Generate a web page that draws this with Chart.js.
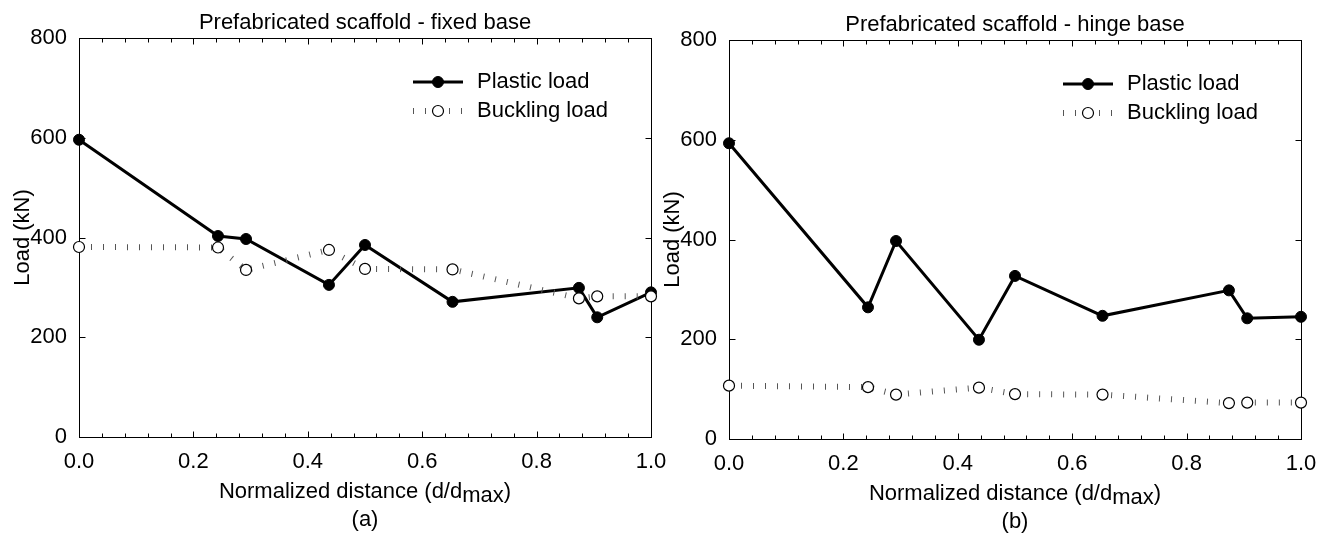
<!DOCTYPE html>
<html>
<head>
<meta charset="utf-8">
<script src="https://cdn.jsdelivr.net/npm/chart.js@4.4.1/dist/chart.umd.min.js"></script>
<style>
  html, body { margin: 0; padding: 0; background: #fff; overflow: hidden; }
  body { width: 1319px; height: 534px; position: relative; }
  canvas { position: absolute; }
  #chart-a { left: 0; top: 0; }
  #chart-b { left: 650px; top: 2px; }
</style>
</head>
<body>
<canvas id="chart-a" width="680" height="534"></canvas>
<canvas id="chart-b" width="680" height="534"></canvas>
<script>
// Normalized distance of each measured point (same for both panels)
const distances = [0, 0.243, 0.292, 0.437, 0.5, 0.653, 0.874, 0.906, 1.0];

// (a) fixed base
const plasticFixed = [596, 403, 397, 305, 385, 271, 299, 240, 290];
const bucklingFixed = [381, 380, 335, 375, 337, 336, 278, 282, 282];

// (b) hinge base
const plasticHinge = [593, 264, 397, 199, 327, 247, 298, 242, 245];
const bucklingHinge = [107, 104, 89, 103, 90, 89, 72, 73, 73];

const xTicks = [0, 0.2, 0.4, 0.6, 0.8, 1.0];
const xTickLabels = ['0.0', '0.2', '0.4', '0.6', '0.8', '1.0'];
const yTicks = [0, 200, 400, 600, 800];

const FONT_FAMILY = "'Liberation Sans', Arial, Helvetica, sans-serif";
const FONT_SIZE = 22;
Chart.defaults.font.family = FONT_FAMILY;
Chart.defaults.color = '#000';

// box around the plot area with inward ticks on all four sides
const framePlugin = {
    id: 'frame',
    beforeDatasetsDraw(chart) {
        const { ctx, chartArea: a, scales: { x, y } } = chart;
        const L = Math.round(a.left) + 0.5, R = Math.round(a.right) + 0.5;
        const T = Math.round(a.top) + 0.5, B = Math.round(a.bottom) + 0.5;
        ctx.save();
        ctx.strokeStyle = '#000';
        ctx.lineWidth = 1;
        ctx.strokeRect(L, T, R - L, B - T);
        ctx.beginPath();
        // minor ticks every 0.04, majors every 0.2
        for (let i = 0; i <= 25; i++) {
            const px = Math.round(x.getPixelForValue(i * 0.04)) + 0.5;
            const len = (i % 5 === 0) ? 6 : 4;
            ctx.moveTo(px, B); ctx.lineTo(px, B - len);
            ctx.moveTo(px, T); ctx.lineTo(px, T + len);
        }
        yTicks.forEach(v => {
            const py = Math.round(y.getPixelForValue(v)) + 0.5;
            ctx.moveTo(L, py); ctx.lineTo(L + 6, py);
            ctx.moveTo(R, py); ctx.lineTo(R - 6, py);
        });
        ctx.stroke();
        ctx.restore();
    }
};

// x axis title with subscript, panel caption and the legend inside the plot
const panelTextPlugin = {
    id: 'panelText',
    afterDraw(chart, args, opts) {
        const { ctx, chartArea: a } = chart;
        const cx = (a.left + a.right) / 2;
        ctx.save();
        ctx.fillStyle = '#000';
        ctx.font = `${FONT_SIZE}px ${FONT_FAMILY}`;

        // Normalized distance (d/d_max)
        const parts = ['Normalized distance (d/d', 'max', ')'];
        const widths = parts.map(p => ctx.measureText(p).width);
        let x0 = cx - (widths[0] + widths[1] + widths[2]) / 2;
        ctx.textAlign = 'left';
        ctx.textBaseline = 'alphabetic';
        ctx.fillText(parts[0], x0, a.bottom + 61);
        ctx.fillText(parts[1], x0 + widths[0], a.bottom + 65);
        ctx.fillText(parts[2], x0 + widths[0] + widths[1], a.bottom + 61);

        ctx.textAlign = 'center';
        ctx.textBaseline = 'middle';
        ctx.fillText(opts.caption, cx, a.bottom + 83);

        // legend
        chart.data.datasets.forEach((ds, i) => {
            const ly = a.top + 44 + i * 29;
            const lx0 = a.right - 238, lx1 = a.right - 188;
            ctx.save();
            ctx.strokeStyle = ds.borderColor;
            ctx.lineWidth = ds.borderWidth;
            ctx.setLineDash(ds.borderDash || []);
            ctx.beginPath();
            ctx.moveTo(lx0, ly); ctx.lineTo(lx1, ly);
            ctx.stroke();
            ctx.setLineDash([]);
            ctx.beginPath();
            ctx.arc((lx0 + lx1) / 2, ly, ds.pointRadius, 0, Math.PI * 2);
            ctx.fillStyle = ds.pointBackgroundColor;
            ctx.fill();
            ctx.lineWidth = ds.pointBorderWidth;
            ctx.strokeStyle = ds.pointBorderColor;
            ctx.stroke();
            ctx.restore();
            ctx.textAlign = 'left';
            ctx.textBaseline = 'middle';
            ctx.fillText(ds.label, a.right - 174, ly);
        });
        ctx.restore();
    }
};

function makePanel(canvasId, title, caption, plastic, buckling) {
    const ctx = document.getElementById(canvasId).getContext('2d');
    const font = { size: FONT_SIZE, family: FONT_FAMILY, weight: 'normal' };
    return new Chart(ctx, {
        type: 'line',
        data: {
            datasets: [
                {
                    label: 'Plastic load',
                    data: distances.map((d, i) => ({ x: d, y: plastic[i] })),
                    borderColor: '#000',
                    borderWidth: 3,
                    pointRadius: 5.5,
                    pointBackgroundColor: '#000',
                    pointBorderColor: '#000',
                    pointBorderWidth: 1,
                    tension: 0,
                    clip: false,
                    order: 2
                },
                {
                    label: 'Buckling load',
                    data: distances.map((d, i) => ({ x: d, y: buckling[i] })),
                    borderColor: '#555',
                    borderWidth: 6,
                    borderDash: [1, 11],
                    borderCapStyle: 'butt',
                    pointRadius: 5.5,
                    pointBackgroundColor: '#fff',
                    pointBorderColor: '#000',
                    pointBorderWidth: 1.2,
                    tension: 0,
                    clip: false,
                    order: 1
                }
            ]
        },
        options: {
            responsive: false,
            animation: false,
            events: [],
            layout: { padding: { left: 0, right: 29, top: 0, bottom: 0 } },
            plugins: {
                legend: { display: false },
                tooltip: { enabled: false },
                title: {
                    display: true,
                    text: title,
                    fullSize: false,
                    color: '#000',
                    font: font,
                    padding: { top: 10, bottom: 1.6 }
                },
                panelText: { caption: caption }
            },
            scales: {
                x: {
                    type: 'linear',
                    min: 0,
                    max: 1,
                    grid: { display: false, drawTicks: false },
                    border: { display: false },
                    afterBuildTicks: s => { s.ticks = xTicks.map(v => ({ value: v })); },
                    afterFit: s => { s.height = 97; },
                    ticks: {
                        callback: (v, i) => xTickLabels[i],
                        font: font,
                        color: '#000',
                        padding: 12,
                        autoSkip: false,
                        maxRotation: 0
                    }
                },
                y: {
                    type: 'linear',
                    min: 0,
                    max: 800,
                    grid: { display: false, drawTicks: false },
                    border: { display: false },
                    afterBuildTicks: s => { s.ticks = yTicks.map(v => ({ value: v })); },
                    afterFit: s => { s.width = 79; },
                    ticks: { font: font, color: '#000', padding: 12 },
                    title: {
                        display: true,
                        text: 'Load (kN)',
                        font: font,
                        color: '#000',
                        padding: { top: 10, bottom: 0 }
                    }
                }
            }
        },
        plugins: [framePlugin, panelTextPlugin]
    });
}

makePanel('chart-a', 'Prefabricated scaffold - fixed base', '(a)', plasticFixed, bucklingFixed);
makePanel('chart-b', 'Prefabricated scaffold - hinge base', '(b)', plasticHinge, bucklingHinge);
</script>
</body>
</html>
